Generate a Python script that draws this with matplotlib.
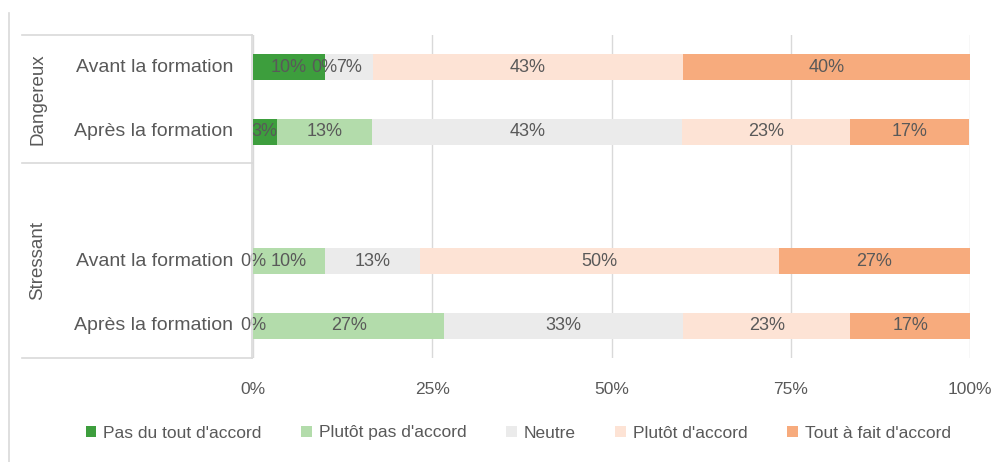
import numpy as np
import matplotlib.pyplot as plt
from matplotlib.lines import Line2D

plt.rcParams['font.family'] = ['Liberation Sans', 'DejaVu Sans']

# données (en % des répondants)
groupes = ["Dangereux", "Stressant"]
lignes = ["Avant la formation", "Après la formation",
          "Avant la formation", "Après la formation"]
reponses = ["Pas du tout d'accord", "Plutôt pas d'accord", "Neutre",
            "Plutôt d'accord", "Tout à fait d'accord"]
pas_du_tout = [10.0, 3.3, 0.0, 0.0]
plutot_pas = [0.0, 13.3, 10.0, 26.7]
neutre = [6.7, 43.3, 13.3, 33.3]
plutot = [43.3, 23.3, 50.0, 23.3]
tout_a_fait = [40.0, 16.7, 26.7, 16.7]

couleurs = ["#3d9e3d", "#b3dcab", "#ebebeb", "#fde3d5", "#f7ab7d"]
gris = "#595959"

series = [pas_du_tout, plutot_pas, neutre, plutot, tout_a_fait]
pos = np.array([0, 1, 3, 4])

fig = plt.figure(figsize=(10.06, 4.62), dpi=100)
ax = fig.add_axes([253 / 1006, 104 / 462, 717 / 1006, 323 / 462])

gauche = np.zeros(len(pos))
for vals, col, nom in zip(series, couleurs, reponses):
    vals = np.array(vals)
    ax.barh(pos, vals, left=gauche, height=0.4, color=col, label=nom, zorder=2)
    for y, g, v in zip(pos, gauche, vals):
        ax.text(g + v / 2, y, f"{v:.0f}%", ha="center", va="center",
                fontsize=13, color=gris, zorder=3)
    gauche += vals

ax.set_xlim(0, 100)
ax.set_ylim(4.5, -0.5)
ax.set_xticks([0, 25, 50, 75, 100])
ax.set_xticklabels(["0%", "25%", "50%", "75%", "100%"])
ax.tick_params(axis="x", length=0, labelsize=12.5, labelcolor=gris, pad=17)
ax.set_yticks([])
ax.grid(axis="x", color="#d9d9d9", linewidth=1, zorder=0)
for s in ax.spines.values():
    s.set_visible(False)

# étiquettes de catégories et cadre à gauche
for y, lab in zip(pos, lignes):
    ax.text(-2.8, y, lab, ha="right", va="center", fontsize=14, color=gris)

trait = dict(color="#d9d9d9", linewidth=1.2, clip_on=False)
fig.add_artist(Line2D([22 / 1006, 252 / 1006], [1 - 35 / 462] * 2, transform=fig.transFigure, **trait))
fig.add_artist(Line2D([22 / 1006, 252 / 1006], [1 - 163 / 462] * 2, transform=fig.transFigure, **trait))
fig.add_artist(Line2D([22 / 1006, 252 / 1006], [1 - 358 / 462] * 2, transform=fig.transFigure, **trait))
fig.add_artist(Line2D([252 / 1006] * 2, [1 - 35 / 462, 1 - 358 / 462], transform=fig.transFigure, **trait))
fig.add_artist(Line2D([9 / 1006] * 2, [1 - 13 / 462, 0], transform=fig.transFigure, **trait))

fig.text(38 / 1006, 1 - 99 / 462, groupes[0], rotation=90, ha="center", va="center",
         fontsize=13.5, color=gris)
fig.text(38 / 1006, 1 - 261 / 462, groupes[1], rotation=90, ha="center", va="center",
         fontsize=13.5, color=gris)

handles, labels = ax.get_legend_handles_labels()
leg = fig.legend(handles, labels, loc="center", bbox_to_anchor=(0.515, 1 - 433 / 462),
                 ncol=5, frameon=False, fontsize=12.5, handlelength=0.6, handleheight=0.6,
                 handletextpad=0.4, columnspacing=2.3)
for t in leg.get_texts():
    t.set_color(gris)

fig.savefig("out.png", dpi=100)
